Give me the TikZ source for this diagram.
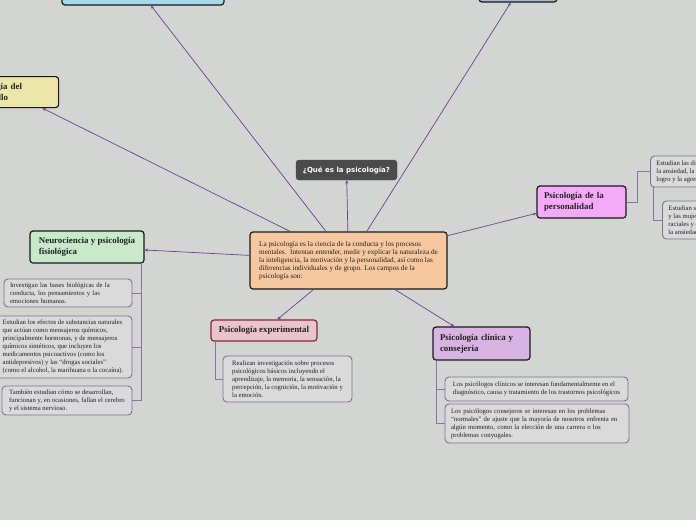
\documentclass[tikz,border=0pt]{standalone}
\usepackage{fontspec}
\setmainfont{Liberation Serif}
\newfontfamily\quefont{DejaVu Sans}
\usetikzlibrary{arrows.meta,calc}
\definecolor{bgc}{HTML}{D3D5D2}
\definecolor{peach}{HTML}{F7C8A0}
\definecolor{cyanbox}{HTML}{A5D9EA}
\definecolor{bluebox}{HTML}{A9B9D1}
\definecolor{yellowbox}{HTML}{ECE7A8}
\definecolor{greenbox}{HTML}{C9E9CB}
\definecolor{pinkbox}{HTML}{EBC3CB}
\definecolor{pinkedge}{HTML}{7B2A3F}
\definecolor{clinbox}{HTML}{D9B3E3}
\definecolor{persbox}{HTML}{F5AAF7}
\definecolor{darkbox}{HTML}{4B4B4B}
\definecolor{subfill}{HTML}{DADADA}
\definecolor{subedge}{HTML}{80708F}
\definecolor{connc}{HTML}{6B3F8F}
\definecolor{branchc}{HTML}{8D72A8}
\definecolor{txt}{HTML}{222222}
\begin{document}
\begin{tikzpicture}[x=1pt,y=-1pt,
  mainbox/.style={draw=black!90, line width=1.2pt, rounded corners=3pt, fill=peach, align=left,
    text=txt, inner xsep=4pt, inner ysep=2pt, font=\fontsize{7.2}{8.1}\selectfont},
  topbox/.style={draw=black!90, line width=1.2pt, rounded corners=3pt, align=left, text=txt,
    inner xsep=7pt, inner ysep=2pt, font=\fontsize{8.9}{11}\selectfont\bfseries},
  subbox/.style={draw=subedge, line width=0.9pt, rounded corners=4pt, fill=subfill, align=left,
    text=txt, inner xsep=4pt, inner ysep=2pt, font=\fontsize{6.7}{8}\selectfont},
  conn/.style={draw=connc, line width=0.7pt, -{Stealth[length=3.5pt,width=3pt]}},
  branch/.style={draw=branchc, line width=0.8pt}]
\useasboundingbox (0,0) rectangle (696,520);
\clip (0,0) rectangle (696,520);
\fill[bgc] (0,0) rectangle (696,520);

% central
\node[mainbox, minimum width=197pt, minimum height=57pt] (central) at (348.5,260.5)
 {La psicología es la ciencia de la conducta y los procesos\\
  mentales.\ \ Intentan entender, medir y explicar la naturaleza de\\
  la inteligencia, la motivación y la personalidad, así como las\\
  diferencias individuales y de grupo. Los campos de la\\
  psicología son:};

% top nodes (mostly off-picture)
\node[topbox, fill=cyanbox, minimum width=162pt, minimum height=30pt] (tl) at (143,-10) {};
\node[topbox, fill=bluebox, minimum width=78pt, minimum height=22pt] (tr) at (518,-9) {};
\node[topbox, fill=yellowbox, anchor=north west, text width=81pt, inner xsep=8pt,
      minimum height=31pt] (dev) at (-39,76) {Psicología del\\desarrollo};

% question
\node[draw=darkbox, fill=darkbox, rounded corners=3pt, text=white, minimum width=101pt,
      minimum height=20pt, inner sep=2pt, font=\quefont\bfseries\fontsize{7}{8}\selectfont]
      (que) at (346.5,170) {¿Qué es la psicología?};

% neuro
\node[topbox, fill=greenbox, minimum width=114pt, minimum height=32pt] (neuro) at (87,247)
 {Neurociencia y psicología\\fisiológica};
\node[subbox, minimum width=128pt, minimum height=28pt, text width=116pt, inner xsep=6pt] (n1) at (68,293)
 {Investigan las bases biológicas de la\\conducta, los pensamientos y las\\emociones humanas.};
\node[subbox, minimum width=138pt, minimum height=62pt, inner xsep=2pt] (n2) at (63,347)
 {Estudian los efectos de substancias naturales\\
  que actúan como mensajeros químicos,\\
  principalmente hormonas, y de mensajeros\\
  químicos sintéticos, que incluyen los\\
  medicamentos psicoactivos (como los\\
  antidepresivos) y las “drogas sociales”\\
  (como el alcohol, la marihuana o la cocaína).};
\node[subbox, minimum width=130pt, minimum height=29pt] (n3) at (67,400.5)
 {También estudian cómo se desarrollan,\\funcionan y, en ocasiones, fallan el cerebro\\y el sistema nervioso.};

% experimental
\node[topbox, fill=pinkbox, draw=pinkedge, minimum width=106pt, minimum height=21pt] (exp) at (264,330.5)
 {Psicología experimental};
\node[subbox, minimum width=129pt, minimum height=46pt] (e1) at (287.5,379)
 {Realizan investigación sobre procesos\\psicológicos básicos incluyendo el\\aprendizaje, la memoria, la sensación, la\\percepción, la cognición, la motivación y\\la emoción.};

% clinical
\node[topbox, fill=clinbox, minimum width=97pt, minimum height=33pt, text width=83pt] (clin) at (481.5,343.5)
 {Psicología clínica y\\consejería};
\node[subbox, minimum width=183pt, minimum height=24pt] (k1) at (536.5,389)
 {Los psicólogos clínicos se interesan fundamentalmente en el\\diagnóstico, causa y tratamiento de los trastornos psicológicos};
\node[subbox, minimum width=184pt, minimum height=39pt, text width=172pt, inner xsep=6pt] (k2) at (537,423.5)
 {Los psicólogos consejeros se interesan en los problemas\\“normales” de ajuste que la mayoría de nosotros enfrenta en\\algún momento, como la elección de una carrera o los\\problemas conyugales.};

% personality
\node[topbox, fill=persbox, minimum width=89pt, minimum height=32pt, text width=75pt] (pers) at (581.5,202)
 {Psicología de la\\personalidad};
\node[subbox, anchor=west, minimum height=31pt, inner xsep=6pt] (p1) at (650,171.5)
 {Estudian las diferencias en características como\\la ansiedad, la sociabilidad, la necesidad de\\logro y la agresividad.};
\node[subbox, anchor=west, minimum height=38pt, inner xsep=6pt] (p2) at (662,220)
 {Estudian similitudes y diferencias entre los hombres\\y las mujeres, diferencias\\raciales y culturales, y\\la ansiedad.};

% connectors from central
\draw[conn] (central) -- ($(tl.south)+(8,0)$);
\draw[conn] (central) -- (tr);
\draw[conn] (central) -- (dev);
\draw[conn] (central) -- (que);
\draw[conn] (central) -- (neuro);
\draw[conn] (central) -- (exp);
\draw[conn] (central) -- (clin);
\draw[conn] (central) -- (pers);

% branches
\coordinate (nb) at ($(neuro.south east)+(-3,0)$);
\draw[branch] (nb) |- (n1.east);
\draw[branch] (nb) |- (n2.east);
\draw[branch] (nb) |- (n3.east);
\coordinate (eb) at ($(exp.south west)+(5,0)$);
\draw[branch] (eb) |- (e1.west);
\coordinate (kb) at ($(clin.south west)+(4,0)$);
\draw[branch] (kb) |- (k1.west);
\draw[branch] (kb) |- (k2.west);
\draw[branch] (pers.east) -- ++(11,0) |- (p1.west);
\coordinate (pb) at ($(p1.south west)+(3,0)$);
\draw[branch] (pb) |- (p2.west);
\end{tikzpicture}
\end{document}
